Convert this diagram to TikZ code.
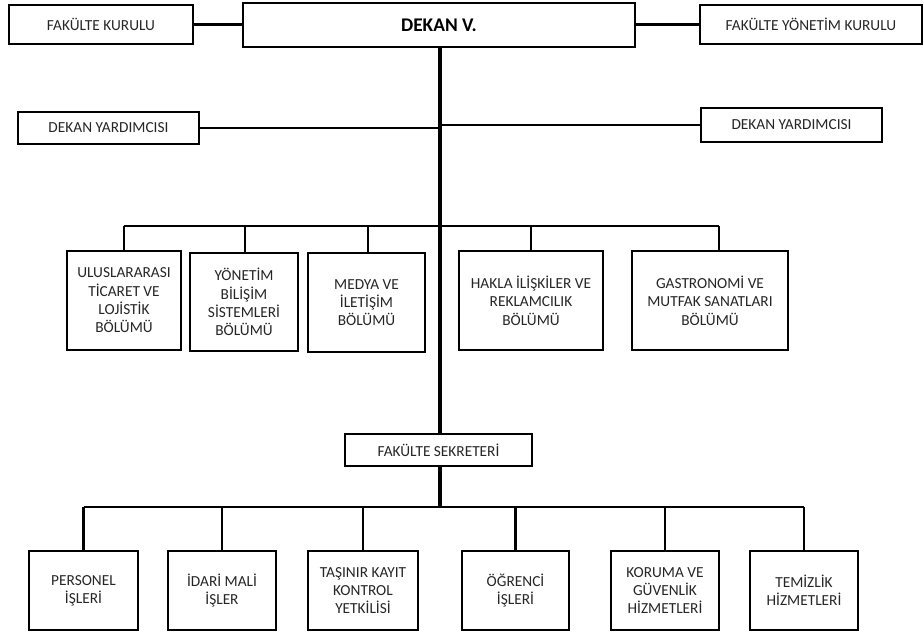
\documentclass[tikz,border=0pt]{standalone}
\usepackage{fontspec}
\setmainfont{Carlito}
\begin{document}
\begin{tikzpicture}[x=0.75pt,y=-0.75pt,
  box/.style={draw,line width=2pt,inner sep=1pt,align=center,text=black!85,font=\fontsize{11.5}{13.75}\selectfont},
  con/.style={line width=1.9pt},
  trunk/.style={line width=2.6pt}]
\useasboundingbox[fill=white] (0,0) rectangle (924,632);
% top
\node[box,minimum width=138pt,minimum height=29.25pt] (fk) at (101,24.5) {FAKÜLTE KURULU};
\node[box,minimum width=294pt,minimum height=33pt,text=black,font=\fontsize{14.5}{16}\selectfont\bfseries] (dekan) at (439,25) {DEKAN V.};
\node[box,minimum width=166.5pt,minimum height=29.25pt] (fyk) at (811,24.5) {FAKÜLTE YÖNETİM KURULU};
\node[box,minimum width=135.75pt,minimum height=24pt] (dy1) at (108.5,128) {DEKAN YARDIMCISI};
\node[box,minimum width=135.75pt,minimum height=25.5pt] (dy2) at (791.5,125) {DEKAN YARDIMCISI};
% departments
\node[box,minimum width=85.5pt,minimum height=74.25pt] (d1) at (124,300.5) {ULUSLARARASI\\TİCARET VE\\LOJİSTİK\\BÖLÜMÜ};
\node[box,minimum width=81pt,minimum height=73.5pt] (d2) at (244,302) {YÖNETİM\\BİLİŞİM\\SİSTEMLERİ\\BÖLÜMÜ};
\node[box,minimum width=87.75pt,minimum height=74.25pt] (d3) at (366.5,302.5) {MEDYA VE\\İLETİŞİM\\BÖLÜMÜ};
\node[box,minimum width=108pt,minimum height=74.25pt] (d4) at (531,300.5) {HAKLA İLİŞKİLER VE\\REKLAMCILIK\\BÖLÜMÜ};
\node[box,minimum width=117pt,minimum height=74.25pt] (d5) at (710,300.5) {GASTRONOMİ VE\\MUTFAK SANATLARI\\BÖLÜMÜ};
% secretary
\node[box,minimum width=140.25pt,minimum height=24pt] (sek) at (438.5,450) {FAKÜLTE SEKRETERİ};
% bottom
\node[box,minimum width=81.75pt,minimum height=59.25pt] (b1) at (83.5,590.5) {PERSONEL\\İŞLERİ};
\node[box,minimum width=81pt,minimum height=59.25pt] (b2) at (222,590.5) {İDARİ MALİ\\İŞLER};
\node[box,minimum width=82.5pt,minimum height=59.25pt] (b3) at (363,590.5) {TAŞINIR KAYIT\\KONTROL\\YETKİLİSİ};
\node[box,minimum width=80.25pt,minimum height=59.25pt] (b4) at (515.5,590.5) {ÖĞRENCİ\\İŞLERİ};
\node[box,minimum width=81pt,minimum height=59.25pt] (b5) at (665,590.5) {KORUMA VE\\GÜVENLİK\\HİZMETLERİ};
\node[box,minimum width=81pt,minimum height=59.25pt] (b6) at (804,590.5) {TEMİZLİK\\HİZMETLERİ};
% coordinates
\coordinate (tx) at (440,0);
\coordinate (s1) at (124,226);
\coordinate (s2) at (245,226);
\coordinate (s3) at (368,226);
\coordinate (s4) at (531,226);
\coordinate (s5) at (719,226);
\coordinate (c1) at (83.5,507);
\coordinate (c2) at (222,507);
\coordinate (c3) at (363,507);
\coordinate (c4) at (515.5,507);
\coordinate (c5) at (665,507);
\coordinate (c6) at (804,507);
% connectors
\draw[con] (fk.east) -- (fk.east -| dekan.west);
\draw[con] (dekan.east |- fyk.west) -- (fyk.west);
\draw[trunk] (dekan.south -| tx) -- (sek.north -| tx);
\draw[con] (dy1.east) -- (dy1.east -| tx);
\draw[con] (dy2.west) -- (dy2.west -| tx);
\draw[con] (s1) -- (s5);
\foreach \s/\d in {s1/d1,s2/d2,s3/d3,s4/d4,s5/d5}
  \draw[con] (\s) -- (\s |- \d.north);
\draw[trunk] (sek.south -| tx) -- (c1 -| tx);
\draw[con] (c1) -- (c6);
\foreach \c/\b in {c1/b1,c2/b2,c3/b3,c4/b4,c5/b5,c6/b6}
  \draw[con] (\c) -- (\c |- \b.north);
\end{tikzpicture}
\end{document}
